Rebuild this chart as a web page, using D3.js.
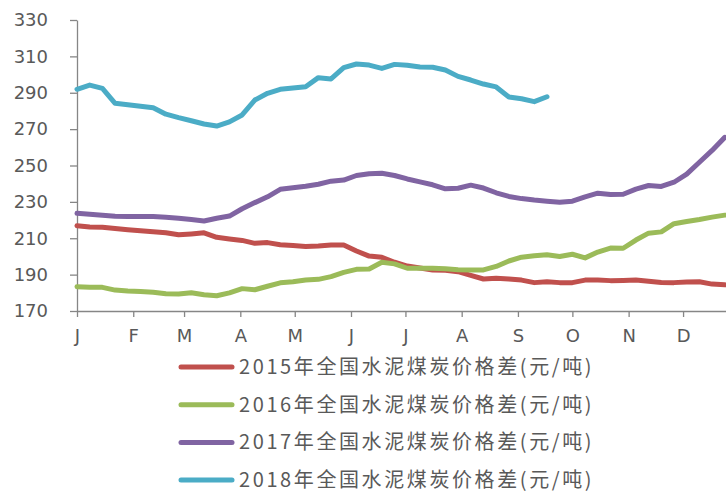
<!DOCTYPE html>
<meta charset="utf-8">
<head>
<script src="https://d3js.org/d3.v7.min.js"></script>
<style>
  body { margin: 0; background: #fff; }
  .axis text { font-family: "DejaVu Sans", sans-serif; font-size: 18px; fill: #595959; }
  .axis path, .axis line { stroke: #868686; stroke-width: 1.3; }
  .legend text { font-family: "Noto Sans CJK SC", sans-serif; font-size: 20px; fill: #595959; letter-spacing: 2.6px; }
</style>
</head>
<body>
<div class="viz"></div>
<script>
// weekly values, week 0 = 1 Jan
var s2015 = [216.9,216.2,216,215.3,214.7,214.1,213.6,213,211.9,212.4,213,210.5,209.6,208.8,207.2,207.6,206.4,206,205.5,205.8,206.3,206.3,203,200.2,199.5,196.8,194.7,193.6,192.5,192.4,191.6,189.6,187.6,188,187.6,187,185.6,186.1,185.6,185.6,187,187,186.7,186.8,187,186.3,185.7,185.6,186,186.1,184.8,184.4];
var s2016 = [183.4,183.1,183,181.5,181,180.7,180.3,179.5,179.3,180,178.9,178.4,180,182.3,181.7,183.6,185.5,186.1,187,187.4,188.9,191.2,192.9,193.1,196.8,195.9,193.5,193.5,193.5,193.2,192.7,192.5,192.6,194.5,197.5,199.6,200.4,200.9,200,201.2,199.2,202.4,204.6,204.5,209,212.8,213.5,218,219.2,220.3,221.6,222.7];
var s2017 = [223.7,223.2,222.6,222.1,222,222,221.9,221.5,221,220.3,219.5,221,222.2,226.2,229.6,232.8,236.9,237.8,238.6,239.7,241.4,242,244.5,245.5,245.7,244.5,242.6,241,239.4,237.2,237.5,239.2,237.6,235,233,231.8,231,230.4,229.8,230.4,232.8,234.8,234,234.2,237,239,238.5,240.8,245.3,251.8,258.3,265.5];
var s2018 = [291.9,294.2,292.4,284.2,283.4,282.6,281.8,278.2,276.3,274.6,272.8,271.7,274,277.8,286,289.7,291.9,292.6,293.3,298.3,297.6,303.8,305.8,305.2,303.4,305.6,305.1,304.2,304,302.5,299,297,294.8,293.2,287.7,286.7,285.1,287.8];

var seriesNames = ["2015年全国水泥煤炭价格差(元/吨)", "2016年全国水泥煤炭价格差(元/吨)",
                   "2017年全国水泥煤炭价格差(元/吨)", "2018年全国水泥煤炭价格差(元/吨)"];
var seriesColors = ["#C0504D", "#9BBB59", "#8064A2", "#4BACC6"];
var monthLabels = ["J","F","M","A","M","J","J","A","S","O","N","D"];
var yTicks = [170,190,210,230,250,270,290,310,330];

var width = 726, height = 493;

var svg = d3.select("div.viz").append("svg")
    .attr("width", width)
    .attr("height", height);

var start = new Date(2018, 0, 1);
var x = d3.scaleTime()
    .domain([start, new Date(2018, 11, 31)])
    .range([77, 737.5]);

var y = d3.scaleLinear()
    .domain([170, 330])
    .range([311, 20]);

function weekDate(i) {
    return d3.timeDay.offset(start, i * 7);
}

// x axis
var months = d3.timeMonth.range(start, new Date(2018, 11, 2));
svg.append("g")
    .attr("class", "axis")
    .attr("transform", "translate(0," + y(170) + ")")
    .call(d3.axisBottom(x)
        .tickValues(months)
        .tickFormat(function(d, i) { return monthLabels[i]; })
        .tickSize(6)
        .tickSizeOuter(0)
        .tickPadding(12));

// y axis
svg.append("g")
    .attr("class", "axis")
    .attr("transform", "translate(" + x(start) + ",0)")
    .call(d3.axisLeft(y)
        .tickValues(yTicks)
        .tickSize(7)
        .tickSizeOuter(0)
        .tickPadding(22));

var line = d3.line()
    .x(function(d, i) { return x(weekDate(i)); })
    .y(function(d) { return y(d); });

[s2015, s2016, s2017, s2018].forEach(function(s, k) {
    svg.append("path")
        .datum(s)
        .attr("d", line)
        .style("fill", "none")
        .style("stroke", seriesColors[k])
        .style("stroke-width", 5)
        .style("stroke-linejoin", "round")
        .style("stroke-linecap", "round");
});

// legend
var legend = svg.append("g").attr("class", "legend");
seriesNames.forEach(function(name, k) {
    var ly = 367 + k * 37.7;
    legend.append("line")
        .attr("x1", 181).attr("x2", 232)
        .attr("y1", ly).attr("y2", ly)
        .style("stroke", seriesColors[k])
        .style("stroke-width", 5)
        .style("stroke-linecap", "round");
    legend.append("text")
        .attr("x", 239)
        .attr("y", ly)
        .attr("dy", "0.35em")
        .text(name);
});
</script>
</body>
